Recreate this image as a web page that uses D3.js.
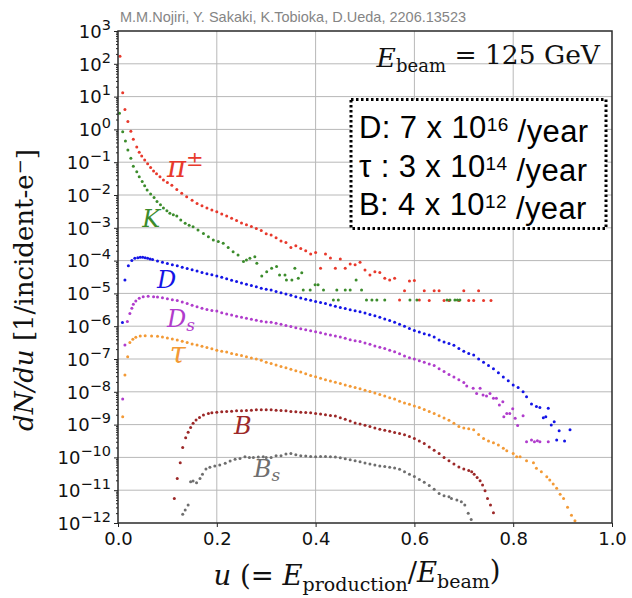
<!DOCTYPE html>
<html>
<head>
<meta charset="utf-8">
<script src="https://cdn.jsdelivr.net/npm/d3@7"></script>
<style>
  body { margin: 0; background: #fff; }
  svg { display: block; }
</style>
</head>
<body>
<div id="chart"></div>
<script>
// points as [u, log10(dN/du)]
const pion = [
  [0.004, 2.23], [0.0095, 1.12], [0.014, 0.61], [0.020, 0.24], [0.026, -0.06], [0.031, -0.30],
  [0.038, -0.54], [0.043, -0.70], [0.048, -0.81], [0.054, -0.93], [0.060, -1.05], [0.066, -1.16],
  [0.072, -1.27], [0.078, -1.35], [0.085, -1.44], [0.092, -1.54], [0.100, -1.62], [0.109, -1.70],
  [0.119, -1.83], [0.129, -1.95], [0.139, -2.05], [0.15, -2.16], [0.16, -2.26], [0.17, -2.33],
  [0.18, -2.40], [0.19, -2.46], [0.20, -2.51], [0.21, -2.58], [0.22, -2.64], [0.23, -2.71],
  [0.24, -2.78], [0.25, -2.85], [0.26, -2.91], [0.27, -2.96], [0.28, -3.02], [0.29, -3.08],
  [0.30, -3.18], [0.31, -3.22], [0.32, -3.30], [0.33, -3.40], [0.34, -3.45], [0.35, -3.60],
  [0.36, -3.55], [0.37, -3.63], [0.38, -3.70], [0.39, -3.80], [0.40, -3.75], [0.41, -4.23],
  [0.42, -3.80], [0.43, -3.92], [0.44, -4.23], [0.45, -3.95], [0.46, -4.23], [0.47, -4.10],
  [0.48, -4.13], [0.49, -4.05], [0.50, -4.29], [0.51, -4.44], [0.52, -4.34], [0.53, -4.36],
  [0.54, -4.54], [0.55, -4.59], [0.56, -4.54], [0.57, -5.20], [0.58, -4.92], [0.59, -4.62],
  [0.60, -4.61], [0.61, -5.20], [0.62, -4.92], [0.63, -5.22], [0.64, -4.92], [0.65, -4.92],
  [0.66, -5.22], [0.67, -5.22], [0.69, -5.22], [0.70, -4.92], [0.71, -5.22], [0.72, -5.22],
  [0.73, -4.92], [0.74, -5.22], [0.755, -5.22]
]

const kaon = [
  [0.003, 0.49], [0.0095, -0.07], [0.015, -0.35], [0.020, -0.63], [0.026, -0.88], [0.031, -1.12],
  [0.038, -1.29], [0.043, -1.44], [0.049, -1.59], [0.054, -1.72], [0.059, -1.85], [0.066, -1.97],
  [0.073, -2.08], [0.079, -2.20], [0.086, -2.30], [0.092, -2.40], [0.099, -2.48], [0.105, -2.56],
  [0.112, -2.60], [0.119, -2.64], [0.127, -2.76], [0.136, -2.86], [0.144, -2.92], [0.152, -2.97],
  [0.162, -3.07], [0.173, -3.17], [0.183, -3.27], [0.193, -3.37], [0.203, -3.42], [0.213, -3.47],
  [0.223, -3.60], [0.233, -3.73], [0.243, -3.83], [0.254, -4.03], [0.260, -3.98], [0.267, -3.93],
  [0.277, -3.88], [0.281, -4.08], [0.291, -4.47], [0.301, -4.34], [0.311, -4.23], [0.321, -4.18],
  [0.327, -4.44], [0.338, -4.44], [0.341, -4.59], [0.352, -4.59], [0.358, -4.23], [0.365, -4.54],
  [0.372, -4.37], [0.375, -4.90], [0.389, -4.90], [0.399, -4.74], [0.405, -4.74], [0.416, -4.90],
  [0.436, -5.20], [0.443, -4.90], [0.446, -5.20], [0.460, -4.90], [0.470, -4.90], [0.482, -4.59],
  [0.493, -4.90], [0.503, -5.20], [0.514, -5.20], [0.524, -5.20], [0.540, -5.20], [0.591, -5.20],
  [0.605, -5.20], [0.666, -5.20], [0.672, -5.20], [0.682, -5.20], [0.687, -5.20], [0.692, -5.20]
]

const dMeson = [
  [0.009, -5.89], [0.014, -4.59], [0.021, -4.16], [0.028, -4.00], [0.034, -3.93], [0.040, -3.91],
  [0.045, -3.90], [0.050, -3.90], [0.055, -3.91], [0.060, -3.93], [0.065, -3.95], [0.07, -3.97],
  [0.08, -4.01], [0.09, -4.05], [0.10, -4.09], [0.11, -4.13], [0.12, -4.16], [0.13, -4.20],
  [0.14, -4.24], [0.15, -4.28], [0.16, -4.32], [0.17, -4.36], [0.18, -4.40], [0.19, -4.43],
  [0.20, -4.47], [0.21, -4.51], [0.22, -4.55], [0.23, -4.60], [0.24, -4.64], [0.25, -4.68],
  [0.26, -4.72], [0.27, -4.76], [0.28, -4.80], [0.29, -4.84], [0.30, -4.87], [0.31, -4.90],
  [0.32, -4.94], [0.33, -4.98], [0.34, -5.02], [0.35, -5.06], [0.36, -5.10], [0.37, -5.14],
  [0.38, -5.18], [0.39, -5.21], [0.40, -5.25], [0.41, -5.28], [0.42, -5.31], [0.43, -5.35],
  [0.44, -5.39], [0.45, -5.43], [0.46, -5.46], [0.47, -5.50], [0.48, -5.53], [0.49, -5.56],
  [0.50, -5.60], [0.51, -5.64], [0.52, -5.68], [0.53, -5.73], [0.54, -5.78], [0.55, -5.83],
  [0.56, -5.88], [0.57, -5.94], [0.58, -6.00], [0.59, -6.07], [0.60, -6.13], [0.61, -6.18],
  [0.62, -6.23], [0.63, -6.27], [0.64, -6.33], [0.65, -6.42], [0.66, -6.48], [0.67, -6.53],
  [0.68, -6.58], [0.69, -6.68], [0.70, -6.76], [0.71, -6.83], [0.72, -6.88], [0.73, -7.00],
  [0.74, -7.10], [0.75, -7.20], [0.76, -7.30], [0.77, -7.42], [0.78, -7.55], [0.79, -7.66],
  [0.80, -7.79], [0.81, -7.87], [0.82, -8.00], [0.827, -8.15], [0.837, -8.37], [0.847, -8.45],
  [0.854, -8.48], [0.861, -8.79], [0.866, -8.76], [0.871, -8.50], [0.877, -9.01], [0.883, -8.91],
  [0.888, -9.47], [0.893, -9.19], [0.904, -9.50], [0.915, -9.16]
]

const dsMeson = [
  [0.0095, -8.22], [0.014, -6.57], [0.019, -5.86], [0.024, -5.61], [0.028, -5.45], [0.031, -5.33],
  [0.036, -5.23], [0.043, -5.15], [0.051, -5.10], [0.061, -5.09], [0.072, -5.10], [0.08, -5.11],
  [0.09, -5.13], [0.10, -5.16], [0.11, -5.19], [0.12, -5.22], [0.13, -5.26], [0.14, -5.31],
  [0.15, -5.36], [0.16, -5.41], [0.17, -5.45], [0.18, -5.49], [0.19, -5.52], [0.20, -5.54],
  [0.21, -5.59], [0.22, -5.63], [0.23, -5.66], [0.24, -5.70], [0.25, -5.73], [0.26, -5.76],
  [0.27, -5.79], [0.28, -5.82], [0.29, -5.85], [0.30, -5.87], [0.31, -5.88], [0.32, -5.91],
  [0.33, -5.94], [0.34, -5.98], [0.35, -6.01], [0.36, -6.05], [0.37, -6.08], [0.38, -6.11],
  [0.39, -6.14], [0.40, -6.17], [0.41, -6.20], [0.42, -6.24], [0.43, -6.27], [0.44, -6.30],
  [0.45, -6.33], [0.46, -6.37], [0.47, -6.41], [0.48, -6.44], [0.49, -6.47], [0.50, -6.51],
  [0.51, -6.55], [0.52, -6.60], [0.53, -6.64], [0.54, -6.68], [0.55, -6.73], [0.56, -6.78],
  [0.57, -6.84], [0.58, -6.91], [0.59, -6.96], [0.60, -7.00], [0.61, -7.05], [0.62, -7.10],
  [0.63, -7.15], [0.64, -7.20], [0.65, -7.30], [0.66, -7.38], [0.67, -7.47], [0.68, -7.55],
  [0.69, -7.63], [0.70, -7.72], [0.706, -7.82], [0.719, -7.89], [0.726, -8.05], [0.733, -7.89],
  [0.739, -8.10], [0.746, -8.13], [0.753, -8.05], [0.760, -8.20], [0.766, -8.20], [0.772, -8.40],
  [0.779, -8.30], [0.781, -8.76], [0.787, -8.66], [0.793, -8.66], [0.799, -8.52], [0.804, -8.81],
  [0.809, -9.03], [0.820, -8.73], [0.827, -9.52], [0.837, -9.47], [0.843, -9.52], [0.849, -9.49],
  [0.854, -9.52], [0.871, -9.52]
]

const tau = [
  [0.0095, -8.76], [0.014, -7.49], [0.0196, -6.93], [0.024, -6.50], [0.030, -6.40], [0.036, -6.34],
  [0.045, -6.30], [0.055, -6.29], [0.068, -6.30], [0.08, -6.31], [0.09, -6.33], [0.10, -6.36],
  [0.11, -6.39], [0.12, -6.42], [0.13, -6.46], [0.14, -6.50], [0.15, -6.54], [0.16, -6.57],
  [0.17, -6.61], [0.18, -6.65], [0.19, -6.69], [0.20, -6.73], [0.21, -6.76], [0.22, -6.79],
  [0.23, -6.83], [0.24, -6.86], [0.25, -6.89], [0.26, -6.93], [0.27, -6.97], [0.28, -7.00],
  [0.29, -7.04], [0.30, -7.10], [0.31, -7.14], [0.32, -7.18], [0.33, -7.23], [0.34, -7.27],
  [0.35, -7.31], [0.36, -7.36], [0.37, -7.40], [0.38, -7.45], [0.39, -7.50], [0.40, -7.54],
  [0.41, -7.59], [0.42, -7.63], [0.43, -7.67], [0.44, -7.71], [0.45, -7.75], [0.46, -7.79],
  [0.47, -7.83], [0.48, -7.87], [0.49, -7.91], [0.50, -7.95], [0.51, -7.99], [0.52, -8.04],
  [0.53, -8.08], [0.54, -8.13], [0.55, -8.18], [0.56, -8.22], [0.57, -8.29], [0.58, -8.34],
  [0.59, -8.38], [0.60, -8.43], [0.61, -8.48], [0.62, -8.54], [0.63, -8.60], [0.64, -8.66],
  [0.65, -8.73], [0.66, -8.80], [0.67, -8.87], [0.68, -8.96], [0.69, -9.06], [0.70, -9.10],
  [0.71, -9.13], [0.72, -9.16], [0.73, -9.30], [0.74, -9.42], [0.75, -9.50], [0.76, -9.55],
  [0.77, -9.62], [0.78, -9.72], [0.787, -9.80], [0.80, -9.88], [0.807, -9.98], [0.814, -9.98],
  [0.827, -10.10], [0.841, -10.16], [0.847, -10.33], [0.857, -10.44], [0.868, -10.59], [0.874, -10.69],
  [0.881, -10.81], [0.888, -10.94], [0.895, -11.12], [0.902, -11.25], [0.910, -11.52], [0.918, -11.76],
  [0.925, -11.93]
]

const bMeson = [
  [0.114, -11.25], [0.120, -10.64], [0.126, -10.16], [0.131, -9.70], [0.137, -9.40], [0.142, -9.23],
  [0.147, -9.09], [0.152, -8.96], [0.158, -8.86], [0.165, -8.78], [0.173, -8.71], [0.183, -8.66],
  [0.19, -8.64], [0.20, -8.62], [0.21, -8.61], [0.22, -8.60], [0.23, -8.59], [0.24, -8.58],
  [0.25, -8.58], [0.26, -8.57], [0.27, -8.56], [0.28, -8.55], [0.29, -8.55], [0.30, -8.55],
  [0.31, -8.55], [0.32, -8.56], [0.33, -8.57], [0.34, -8.58], [0.35, -8.60], [0.36, -8.61],
  [0.37, -8.62], [0.38, -8.63], [0.39, -8.64], [0.40, -8.66], [0.41, -8.68], [0.42, -8.70],
  [0.43, -8.72], [0.44, -8.74], [0.45, -8.79], [0.46, -8.84], [0.47, -8.89], [0.48, -8.95],
  [0.49, -8.98], [0.50, -9.02], [0.51, -9.06], [0.52, -9.10], [0.53, -9.14], [0.54, -9.17],
  [0.55, -9.20], [0.56, -9.24], [0.57, -9.27], [0.58, -9.31], [0.59, -9.36], [0.60, -9.42],
  [0.61, -9.50], [0.62, -9.58], [0.63, -9.68], [0.64, -9.78], [0.65, -9.88], [0.66, -10.00],
  [0.67, -10.10], [0.68, -10.20], [0.69, -10.29], [0.70, -10.35], [0.71, -10.40], [0.716, -10.44],
  [0.721, -10.51], [0.727, -10.61], [0.733, -10.71], [0.738, -10.84], [0.743, -11.02], [0.748, -11.25],
  [0.754, -11.45], [0.760, -11.69]
]

const bsMeson = [
  [0.131, -11.73], [0.136, -11.60], [0.142, -11.45], [0.147, -10.74], [0.152, -10.72], [0.159, -10.77],
  [0.166, -10.64], [0.171, -10.51], [0.178, -10.35], [0.186, -10.30], [0.196, -10.26], [0.206, -10.23],
  [0.217, -10.18], [0.227, -10.11], [0.237, -10.06], [0.247, -10.03], [0.257, -9.98], [0.266, -10.00],
  [0.274, -10.00], [0.284, -9.99], [0.294, -9.98], [0.30, -10.00], [0.31, -10.00], [0.32, -9.95],
  [0.33, -9.95], [0.34, -9.90], [0.35, -9.88], [0.36, -9.92], [0.37, -9.95], [0.38, -9.96],
  [0.39, -9.97], [0.40, -9.98], [0.41, -9.97], [0.42, -9.97], [0.43, -9.98], [0.44, -9.99],
  [0.45, -10.01], [0.46, -10.04], [0.47, -10.07], [0.48, -10.10], [0.49, -10.13], [0.50, -10.17],
  [0.51, -10.20], [0.52, -10.23], [0.53, -10.26], [0.54, -10.28], [0.55, -10.30], [0.56, -10.32],
  [0.57, -10.36], [0.58, -10.44], [0.59, -10.51], [0.60, -10.58], [0.61, -10.67], [0.62, -10.76],
  [0.63, -10.86], [0.64, -10.97], [0.65, -11.10], [0.66, -11.17], [0.67, -11.20], [0.675, -11.25],
  [0.686, -11.30], [0.695, -11.35], [0.702, -11.45], [0.709, -11.70], [0.715, -11.89]
]

const xTicks = [0, 0.2, 0.4, 0.6, 0.8, 1.0]
const yExponents = [-12, -11, -10, -9, -8, -7, -6, -5, -4, -3, -2, -1, 0, 1, 2, 3]

const svgWidth = 632
const svgHeight = 598
const margin = { top: 31, right: 20, bottom: 75, left: 118 }
const plotW = svgWidth - margin.left - margin.right
const plotH = svgHeight - margin.top - margin.bottom

const series = [
  { pts: pion, color: '#e8392c' },
  { pts: kaon, color: '#3c8c2c' },
  { pts: dMeson, color: '#1414e6' },
  { pts: dsMeson, color: '#b03ccc' },
  { pts: tau, color: '#f39a36' },
  { pts: bMeson, color: '#9c2828' },
  { pts: bsMeson, color: '#6e6e6e' }
]

const svg = d3.select('#chart').append('svg')
  .attr('width', svgWidth)
  .attr('height', svgHeight)

const graph = svg.append('g')
  .attr('transform', `translate(${margin.left}, ${margin.top})`)

const x = d3.scaleLinear().domain([0, 1]).range([0, plotW])
const y = d3.scaleLog().domain([1e-12, 1e3]).range([plotH, 0])

// grid
graph.append('g').selectAll('line')
  .data(xTicks.slice(1, -1))
  .enter().append('line')
  .attr('x1', d => x(d)).attr('x2', d => x(d))
  .attr('y1', 0).attr('y2', plotH)
  .attr('stroke', '#b8b8b8').attr('stroke-width', 1)

graph.append('g').selectAll('line')
  .data(yExponents.slice(1, -1))
  .enter().append('line')
  .attr('x1', 0).attr('x2', plotW)
  .attr('y1', d => y(Math.pow(10, d))).attr('y2', d => y(Math.pow(10, d)))
  .attr('stroke', '#b8b8b8').attr('stroke-width', 1)

// dots
series.forEach(s => {
  graph.append('g').selectAll('circle')
    .data(s.pts)
    .enter().append('circle')
    .attr('cx', d => x(d[0]))
    .attr('cy', d => y(Math.pow(10, d[1])))
    .attr('r', 1.5)
    .attr('fill', s.color)
})

// axes
const xAxis = d3.axisBottom(x)
  .tickValues(xTicks)
  .tickFormat(d3.format('.1f'))
  .tickSize(4)
  .tickPadding(5)

graph.append('g')
  .attr('transform', `translate(0, ${plotH})`)
  .call(xAxis)

const minor = []
yExponents.slice(0, -1).forEach(e => {
  for (let k = 2; k < 10; k++) minor.push(k * Math.pow(10, e))
})

graph.append('g')
  .call(d3.axisLeft(y).tickValues(minor).tickSize(2).tickFormat(''))
  .call(g => g.select('.domain').remove())

const yAxisGroup = graph.append('g')
  .call(d3.axisLeft(y)
    .tickValues(yExponents.map(e => Math.pow(10, e)))
    .tickSize(4)
    .tickPadding(3)
    .tickFormat(''))

yAxisGroup.selectAll('.tick').each(function (d) {
  const e = Math.round(Math.log10(d))
  const t = d3.select(this).select('text')
  t.attr('dy', '0.35em')
  t.append('tspan').text('10')
  t.append('tspan')
    .attr('dy', '-0.55em')
    .attr('font-size', '14.5px')
    .text(e < 0 ? '\u2212' + (-e) : String(e))
})

svg.selectAll('.tick text')
  .attr('font-family', '"DejaVu Sans", sans-serif')
  .attr('font-size', '18px')
  .attr('fill', '#111')

svg.selectAll('.tick line').attr('stroke', '#222')
svg.selectAll('.domain').attr('stroke', 'none')

// frame
graph.append('rect')
  .attr('x', 0).attr('y', 0)
  .attr('width', plotW).attr('height', plotH)
  .attr('fill', 'none')
  .attr('stroke', '#2a2a2a')
  .attr('stroke-width', 1.5)

// series labels, placed in data coordinates
const serif = '"DejaVu Serif", "Liberation Serif", serif'

function label(u, e, color) {
  return graph.append('text')
    .attr('x', x(u)).attr('y', y(Math.pow(10, e)))
    .attr('font-family', serif)
    .attr('font-style', 'italic')
    .attr('font-size', '24px')
    .attr('fill', color)
}

const lp = label(0.099, -1.45, series[0].color).attr('font-size', '29px')
lp.append('tspan').text('\u03c0')
lp.append('tspan').attr('dy', '-0.5em').attr('font-style', 'normal').attr('font-size', '21px').text('\u00b1')

label(0.049, -2.98, series[1].color).text('K')
label(0.079, -4.84, series[2].color).text('D')
const lds = label(0.099, -6.02, series[3].color)
lds.append('tspan').text('D')
lds.append('tspan').attr('dy', '0.25em').attr('font-size', '17px').text('s')
label(0.105, -7.12, series[4].color).attr('font-size', '29px').text('\u03c4')
label(0.235, -9.29, series[5].color).text('B')
const lbs = label(0.275, -10.60, series[6].color)
lbs.append('tspan').text('B')
lbs.append('tspan').attr('dy', '0.25em').attr('font-size', '17px').text('s')

// beam energy
const eb = svg.append('text')
  .attr('x', 600).attr('y', 67)
  .attr('text-anchor', 'end')
  .attr('font-family', serif)
  .attr('font-size', '26.5px')
  .attr('fill', '#111')
eb.append('tspan').attr('font-style', 'italic').text('E')
eb.append('tspan').attr('dy', '0.3em').attr('font-size', '18px').text('beam')
eb.append('tspan').attr('dy', '-0.3em').text(' = 125 GeV')

// rates box
svg.append('rect')
  .attr('x', 351).attr('y', 99.5)
  .attr('width', 255).attr('height', 129)
  .attr('fill', '#fff')
  .attr('stroke', '#000')
  .attr('stroke-width', 3)
  .attr('stroke-dasharray', '2.5,2.5')

const rateLines = [['D: 7 x 10', '16', ' /year'], ['\u03c4 : 3 x 10', '14', ' /year'], ['B: 4 x 10', '12', ' /year']]
rateLines.forEach((r, i) => {
  const t = svg.append('text')
    .attr('x', 359).attr('y', 138 + i * 38.5)
    .attr('font-family', '"Liberation Sans", Arial, sans-serif')
    .attr('font-size', '31px')
    .attr('letter-spacing', '0.4px')
    .attr('fill', '#000')
  t.append('tspan').text(r[0])
  t.append('tspan').attr('dy', '-0.36em').attr('font-size', '19px').text(r[1])
  t.append('tspan').attr('dy', '0.36em').text(r[2])
})

// citation
svg.append('text')
  .attr('x', 120).attr('y', 22)
  .attr('font-family', '"Liberation Sans", Arial, sans-serif')
  .attr('font-size', '14.5px')
  .attr('fill', '#858585')
  .text('M.M.Nojiri, Y. Sakaki, K.Tobioka, D.Ueda, 2206.13523')

// axis titles
const xt = svg.append('text')
  .attr('x', margin.left + plotW / 2 - 8).attr('y', 585)
  .attr('text-anchor', 'middle')
  .attr('font-family', serif)
  .attr('font-size', '27.5px')
  .attr('fill', '#111')
xt.append('tspan').attr('font-style', 'italic').text('u')
xt.append('tspan').text(' (= ')
xt.append('tspan').attr('font-style', 'italic').text('E')
xt.append('tspan').attr('dy', '0.3em').attr('font-size', '19px').text('production')
xt.append('tspan').attr('dy', '-0.3em').text('/')
xt.append('tspan').attr('font-style', 'italic').text('E')
xt.append('tspan').attr('dy', '0.3em').attr('font-size', '19px').text('beam')
xt.append('tspan').attr('dy', '-0.3em').text(')')

const yt = svg.append('text')
  .attr('transform', 'translate(33, 290) rotate(-90)')
  .attr('text-anchor', 'middle')
  .attr('font-family', serif)
  .attr('font-size', '26px')
  .attr('fill', '#111')
yt.append('tspan').attr('font-style', 'italic').text('dN/du')
yt.append('tspan').text(' [1/incident-e')
yt.append('tspan').attr('dy', '-0.4em').attr('font-size', '18px').text('\u2212')
yt.append('tspan').attr('dy', '0.4em').text(']')
</script>
</body>
</html>
